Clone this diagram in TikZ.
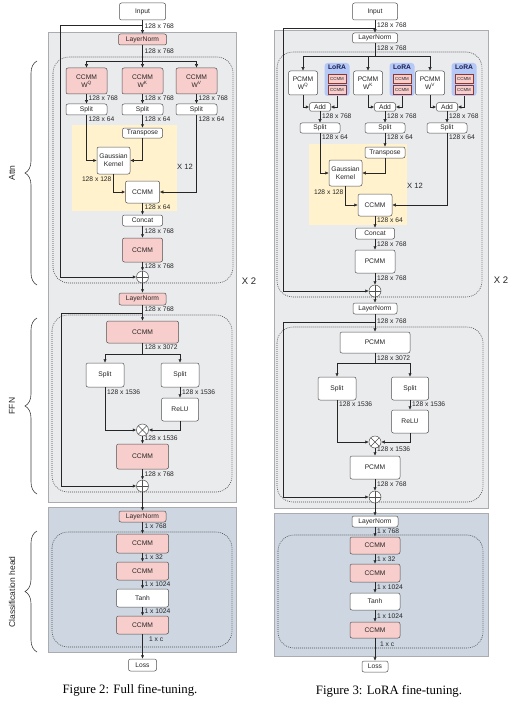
\documentclass[tikz,border=0pt]{standalone}
\usepackage{fontspec}
\setmainfont{Liberation Serif}
\newfontfamily\diafont{Liberation Sans}
\usetikzlibrary{arrows.meta,decorations.pathreplacing}

\definecolor{graybg}{RGB}{234,235,237}
\definecolor{grayline}{RGB}{170,172,175}
\definecolor{headbg}{RGB}{205,214,225}
\definecolor{kernelbg}{RGB}{255,242,204}
\definecolor{ccmmfill}{RGB}{248,206,204}
\definecolor{lorafill}{RGB}{182,200,246}
\definecolor{boxline}{RGB}{80,80,80}
\definecolor{loraline}{RGB}{140,55,45}
\definecolor{loratext}{RGB}{20,30,85}

\newcommand{\dia}{\diafont\fontsize{6.7}{8.2}\selectfont}

\begin{document}
\begin{tikzpicture}[x=1pt, y=-1pt, line width=0.5pt,
  every node/.style={font=\dia, text=black!85},
  box/.style={draw=boxline, fill=white, rounded corners=2pt, inner sep=0pt, align=center},
  ccmm/.style={box, fill=ccmmfill},
  lorabox/.style={fill=lorafill, rounded corners=3pt, inner sep=0pt},
  minibox/.style={draw=loraline, fill=ccmmfill, line width=0.4pt, minimum width=18pt,
    minimum height=8.5pt, inner sep=0pt, font=\diafont\fontsize{4.4}{5}\selectfont},
  lbl/.style={anchor=west, inner sep=0.8pt},
  arr/.style={draw=black!85, -{Latex[length=3.5pt,width=3.2pt]}},
  wire/.style={draw=black!85},
  panel/.style={draw=grayline, fill=graybg},
  headpanel/.style={draw=grayline, fill=headbg},
  group/.style={draw=black!70, line width=0.6pt, dash pattern=on 0.9pt off 1.1pt, rounded corners=16pt},
  sumnode/.style={circle, draw=boxline, fill=white, minimum size=12pt, inner sep=0pt,
    path picture={\draw[boxline] (path picture bounding box.north) -- (path picture bounding box.south)
      (path picture bounding box.west) -- (path picture bounding box.east);}},
  mulnode/.style={circle, draw=boxline, fill=white, minimum size=12pt, inner sep=0pt,
    path picture={\draw[boxline] (path picture bounding box.north west) -- (path picture bounding box.south east)
      (path picture bounding box.north east) -- (path picture bounding box.south west);}},
  brc/.style={draw=black!75, line width=0.6pt, decorate, decoration={brace, amplitude=12pt}},
  side/.style={font=\diafont\fontsize{8.5}{10}\selectfont, rotate=90},
  caption/.style={font=\fontsize{12.8}{15}\selectfont, text=black}]

  \useasboundingbox (0,0) rectangle (524,706);
  \fill[white] (0,0) rectangle (524,706);

  % panels of figure 2
  \draw[panel] (48,32) rectangle (236,502);
  \draw[headpanel] (48,507) rectangle (236,652);
  \fill[kernelbg] (72,125) rectangle (177,211);
  \draw[group] (53,57) rectangle (233,283);
  \draw[group] (52,315) rectangle (232,492);
  \draw[group] (52,532) rectangle (232,647);

  % panels of figure 3
  \draw[panel] (274,30) rectangle (488,508);
  \draw[headpanel] (274,513) rectangle (488,656);
  \fill[kernelbg] (309,144) rectangle (407,225);
  \draw[group] (277,52) rectangle (482,297);
  \draw[group] (277,327) rectangle (483,502);
  \draw[group] (278,535) rectangle (483,648);

  % figure 2: attention
  \node[box, minimum width=46pt, minimum height=17pt] (in2) at (142.5,11.5) {Input};
  \node[ccmm, minimum width=48pt, minimum height=11pt] (ln2a) at (142.5,39.5) {LayerNorm};
  \coordinate (skip2a) at (142.5,25);
  \coordinate (qkv2) at (142.5,61);
  \draw[arr] (in2) -- (ln2a);
  \draw[wire] (ln2a) -- (qkv2);
  \node[lbl] at (143.5,26) {128 x 768};
  \node[lbl] at (143.5,51) {128 x 768};
  \foreach \nm/\xc/\ws in {q/86.5/Q, k/142.5/K, v/196.5/V} {
    \node[ccmm, minimum width=41pt, minimum height=26pt] (w\nm) at (\xc,81) {CCMM\\W\textsuperscript{\ws}};
    \node[box, minimum width=41pt, minimum height=11pt] (sp\nm) at (\xc,109.5) {Split};
    \draw[arr] (qkv2) -| (w\nm);
    \draw[arr] (w\nm) -- (sp\nm);
    \node[lbl] at (\xc+1,98) {128 x 768};
    \node[lbl] at (\xc+1,119) {128 x 64};
  }
  \node[box, minimum width=40pt, minimum height=10pt] (tr2) at (142.5,133) {Transpose};
  \node[box, minimum width=33pt, minimum height=27pt] (gk2) at (113.5,160.5) {Gaussian\\Kernel};
  \node[box, minimum width=34pt, minimum height=22pt] (att2) at (142.5,192) {CCMM};
  \draw[arr] (spk) -- (tr2);
  \draw[arr] (spq) |- (gk2);
  \draw[arr] (tr2) |- (gk2);
  \draw[arr] (gk2) |- (att2);
  \draw[arr] (spv) |- (att2);
  \node[lbl, anchor=east] at (112.5,179) {128 x 128};
  \node[font=\diafont\fontsize{7.6}{9}\selectfont] at (185,167) {X 12};
  \node[box, minimum width=40pt, minimum height=11pt] (cat2) at (142.5,220.5) {Concat};
  \node[ccmm, minimum width=40pt, minimum height=24pt] (wo2) at (142.5,250) {CCMM};
  \node[sumnode] (add2a) at (142.5,277) {};
  \draw[arr] (att2) -- (cat2);
  \draw[arr] (cat2) -- (wo2);
  \draw[arr] (wo2) -- (add2a);
  \draw[arr] (skip2a) -- (60,25) |- (add2a);
  \node[lbl] at (143.5,207) {128 x 64};
  \node[lbl] at (143.5,231) {128 x 768};
  \node[lbl] at (143.5,266) {128 x 768};
  \node[font=\diafont\fontsize{9.5}{11}\selectfont] at (249,281) {X 2};

  % figure 2: feed forward
  \node[ccmm, minimum width=47pt, minimum height=12pt] (ln2b) at (142.5,299) {LayerNorm};
  \coordinate (skip2b) at (142.5,313);
  \node[ccmm, minimum width=72pt, minimum height=22pt] (f2a) at (142.5,332) {CCMM};
  \coordinate (ffn2) at (142.5,354);
  \node[box, minimum width=38pt, minimum height=24pt] (sl2) at (105,375) {Split};
  \node[box, minimum width=38pt, minimum height=24pt] (sr2) at (180,375) {Split};
  \node[box, minimum width=37pt, minimum height=23pt] (relu2) at (180,409.5) {ReLU};
  \node[mulnode] (mul2) at (142.5,430) {};
  \node[ccmm, minimum width=52pt, minimum height=25pt] (f2b) at (142.5,456.5) {CCMM};
  \node[sumnode] (add2b) at (142.5,486) {};
  \draw[arr] (add2a) -- (ln2b);
  \draw[arr] (ln2b) -- (f2a);
  \draw[wire] (f2a) -- (ffn2);
  \draw[arr] (ffn2) -| (sl2);
  \draw[arr] (ffn2) -| (sr2);
  \draw[arr] (sr2) -- (relu2);
  \draw[arr] (sl2) |- (mul2);
  \draw[arr] (relu2) |- (mul2);
  \draw[arr] (mul2) -- (f2b);
  \draw[arr] (f2b) -- (add2b);
  \draw[arr] (skip2b) -- (61,313) |- (add2b);
  \node[lbl] at (143.5,309) {128 x 768};
  \node[lbl] at (143.5,347) {128 x 3072};
  \node[lbl] at (106,392) {128 x 1536};
  \node[lbl] at (181,392) {128 x 1536};
  \node[lbl] at (143.5,438) {128 x 1536};
  \node[lbl] at (143.5,474) {128 x 768};

  % figure 2: classification head
  \node[ccmm, minimum width=47pt, minimum height=11pt] (ln2c) at (142.5,516.5) {LayerNorm};
  \node[ccmm, minimum width=52pt, minimum height=19pt] (hd2a) at (142.5,543.5) {CCMM};
  \node[ccmm, minimum width=52pt, minimum height=18pt] (hd2b) at (142.5,571) {CCMM};
  \node[box, minimum width=52pt, minimum height=18pt] (hd2c) at (142.5,598) {Tanh};
  \node[ccmm, minimum width=52pt, minimum height=18pt] (hd2d) at (142.5,625) {CCMM};
  \node[box, minimum width=28pt, minimum height=12pt] (loss2) at (142.5,665) {Loss};
  \draw[arr] (add2b) -- (ln2c);
  \draw[arr] (ln2c) -- (hd2a);
  \draw[arr] (hd2a) -- (hd2b);
  \draw[arr] (hd2b) -- (hd2c);
  \draw[arr] (hd2c) -- (hd2d);
  \draw[arr] (hd2d) -- (loss2);
  \node[lbl] at (143.5,526) {1 x 768};
  \node[lbl] at (143.5,557) {1 x 32};
  \node[lbl] at (143.5,584) {1 x 1024};
  \node[lbl] at (143.5,611) {1 x 1024};
  \node[lbl] at (148,639) {1 x c};

  % braces
  \draw[brc] (37,285) -- (37,61);
  \draw[brc] (37,494) -- (37,318);
  \draw[brc] (37,652) -- (37,531);
  \node[side] at (12,173) {Attn};
  \node[side] at (12,406) {FFN};
  \node[side] at (12,592) {Classification head};

  \node[caption] (cap2) at (130,690) {Figure 2: Full fine-tuning.};

  % figure 3: attention with LoRA
  \node[box, minimum width=45pt, minimum height=17pt] (in3) at (375,11.5) {Input};
  \node[box, minimum width=45pt, minimum height=10pt] (ln3a) at (375,38) {LayerNorm};
  \coordinate (skip3a) at (375,28);
  \coordinate (qkv3) at (375,56);
  \draw[arr] (in3) -- (ln3a);
  \draw[wire] (ln3a) -- (qkv3);
  \node[lbl] at (376,25) {128 x 768};
  \node[lbl] at (376,48) {128 x 768};
  \foreach \nm/\pc/\lc/\ac/\ws in {q/303/337/320/Q, k/368/402/385/K, v/430/464/447/V} {
    \node[box, minimum width=29pt, minimum height=24pt] (p\nm) at (\pc,83) {PCMM\\W\textsuperscript{\ws}};
    \node[lorabox, minimum width=25pt, minimum height=33pt] (lo\nm) at (\lc,79.5) {};
    \node[font=\dia\bfseries, text=loratext, inner sep=0pt] at (\lc,67) {LoRA};
    \node[minibox] (la\nm) at (\lc,78.5) {CCMM};
    \node[minibox] (lb\nm) at (\lc,89.5) {CCMM};
    \node[box, minimum width=21pt, minimum height=8.5pt] (ad\nm) at (\ac,107) {Add};
    \node[box, minimum width=40pt, minimum height=10pt] (sp3\nm) at (\ac,128) {Split};
    \draw[arr] (qkv3) -| (p\nm);
    \draw[arr] (p\nm) |- (ad\nm);
    \draw[arr] (lo\nm) |- (ad\nm);
    \draw[arr] (ad\nm) -- (sp3\nm);
    \node[lbl] at (\ac+1,116) {128 x 768};
    \node[lbl] at (\ac+1,137) {128 x 64};
  }
  \node[box, minimum width=40pt, minimum height=11pt] (tr3) at (385,152.5) {Transpose};
  \node[box, minimum width=33pt, minimum height=26pt] (gk3) at (345.5,173) {Gaussian\\Kernel};
  \node[box, minimum width=34pt, minimum height=22pt] (att3) at (375,205) {CCMM};
  \draw[arr] (sp3k) -- (tr3);
  \draw[arr] (sp3q) |- (gk3);
  \draw[arr] (tr3) |- (gk3);
  \draw[arr] (gk3) |- (att3);
  \draw[arr] (sp3v) |- (att3);
  \node[lbl, anchor=east] at (344.5,192) {128 x 128};
  \node[font=\diafont\fontsize{7.6}{9}\selectfont] at (415,186) {X 12};
  \node[box, minimum width=39pt, minimum height=11pt] (cat3) at (375,233.5) {Concat};
  \node[box, minimum width=40pt, minimum height=23pt] (po3) at (375,261.5) {PCMM};
  \node[sumnode] (add3a) at (375,291) {};
  \draw[arr] (att3) -- (cat3);
  \draw[arr] (cat3) -- (po3);
  \draw[arr] (po3) -- (add3a);
  \draw[arr] (skip3a) -- (283,28) |- (add3a);
  \node[lbl] at (376,220) {128 x 64};
  \node[lbl] at (376,244) {128 x 768};
  \node[lbl] at (376,278) {128 x 768};
  \node[font=\diafont\fontsize{9.5}{11}\selectfont] at (501,280) {X 2};

  % figure 3: feed forward
  \node[box, minimum width=44pt, minimum height=11pt] (ln3b) at (375,308.5) {LayerNorm};
  \coordinate (skip3b) at (375,322);
  \node[box, minimum width=70pt, minimum height=21pt] (pf3a) at (375,342.5) {PCMM};
  \coordinate (ffn3) at (375,363);
  \node[box, minimum width=38pt, minimum height=23pt] (sl3) at (337,388.5) {Split};
  \node[box, minimum width=37pt, minimum height=23pt] (sr3) at (410,388.5) {Split};
  \node[box, minimum width=37pt, minimum height=23pt] (relu3) at (410,421.5) {ReLU};
  \node[mulnode] (mul3) at (375,442) {};
  \node[box, minimum width=50pt, minimum height=23pt] (pf3b) at (375,467.5) {PCMM};
  \node[sumnode] (add3b) at (375,497) {};
  \draw[arr] (add3a) -- (ln3b);
  \draw[arr] (ln3b) -- (pf3a);
  \draw[wire] (pf3a) -- (ffn3);
  \draw[arr] (ffn3) -| (sl3);
  \draw[arr] (ffn3) -| (sr3);
  \draw[arr] (sr3) -- (relu3);
  \draw[arr] (sl3) |- (mul3);
  \draw[arr] (relu3) |- (mul3);
  \draw[arr] (mul3) -- (pf3b);
  \draw[arr] (pf3b) -- (add3b);
  \draw[arr] (skip3b) -- (283,322) |- (add3b);
  \node[lbl] at (376,321) {128 x 768};
  \node[lbl] at (376,358) {128 x 3072};
  \node[lbl] at (338,404) {128 x 1536};
  \node[lbl] at (411,404) {128 x 1536};
  \node[lbl] at (376,449) {128 x 1536};
  \node[lbl] at (376,484) {128 x 768};

  % figure 3: classification head
  \node[box, minimum width=46pt, minimum height=11pt] (ln3c) at (375,521.5) {LayerNorm};
  \node[ccmm, minimum width=50pt, minimum height=17pt] (hd3a) at (375,545.5) {CCMM};
  \node[ccmm, minimum width=50pt, minimum height=18pt] (hd3b) at (375,573) {CCMM};
  \node[box, minimum width=50pt, minimum height=17pt] (hd3c) at (375,601.5) {Tanh};
  \node[ccmm, minimum width=50pt, minimum height=16pt] (hd3d) at (375,630) {CCMM};
  \node[box, minimum width=26pt, minimum height=11pt] (loss3) at (375,666.5) {Loss};
  \draw[arr] (add3b) -- (ln3c);
  \draw[arr] (ln3c) -- (hd3a);
  \draw[arr] (hd3a) -- (hd3b);
  \draw[arr] (hd3b) -- (hd3c);
  \draw[arr] (hd3c) -- (hd3d);
  \draw[arr] (hd3d) -- (loss3);
  \node[lbl] at (376,531) {1 x 768};
  \node[lbl] at (376,559) {1 x 32};
  \node[lbl] at (376,587) {1 x 1024};
  \node[lbl] at (376,616) {1 x 1024};
  \node[lbl] at (379,644) {1 x c};

  \node[caption] (cap3) at (389,691) {Figure 3: LoRA fine-tuning.};
\end{tikzpicture}
\end{document}
